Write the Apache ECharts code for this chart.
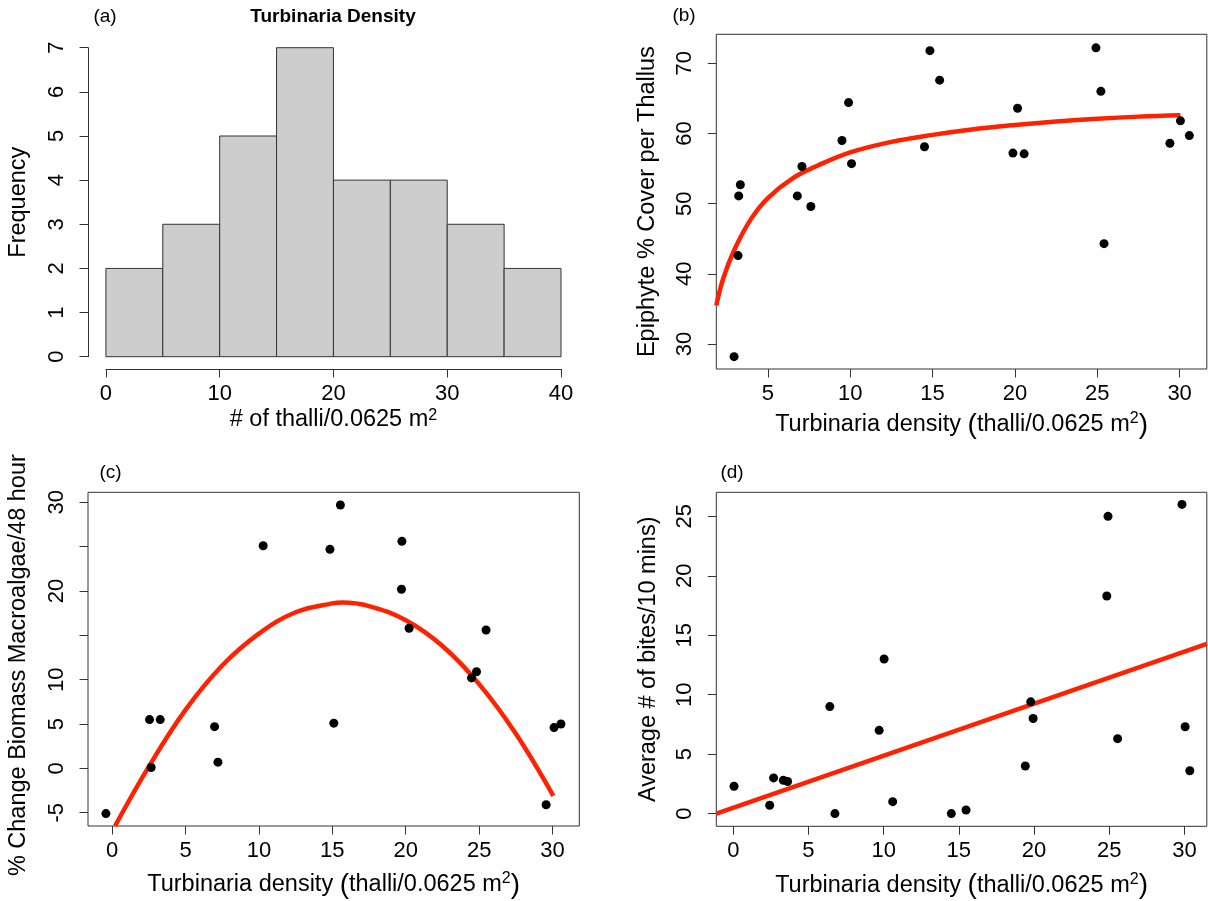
<!DOCTYPE html>
<html>
<head>
<meta charset="utf-8">
<script src="https://cdn.jsdelivr.net/npm/echarts@6/dist/echarts.min.js"></script>
<style>
  html, body { margin: 0; padding: 0; background: #ffffff; }
  #chart { width: 1208px; height: 901px; }
</style>
</head>
<body>
<div id="chart"></div>
<script>
// (a) Histogram of Turbinaria density
const binEdges = [0, 5, 10, 15, 20, 25, 30, 35, 40];
const binCounts = [2, 3, 5, 7, 4, 4, 3, 2];
const histTicksX = [0, 10, 20, 30, 40];
const histTicksY = [0, 1, 2, 3, 4, 5, 6, 7];

// (b) Epiphyte cover vs density
const epiDensity = [2.95, 3.19, 3.23, 3.33, 6.79, 7.07, 7.61, 9.50, 9.90, 10.08, 14.51, 14.84, 15.43, 19.88, 20.16, 20.56, 24.92, 25.22, 25.41, 29.41, 30.05, 30.59];
const epiCover = [28.2, 42.6, 51.1, 52.7, 51.1, 55.3, 49.6, 59.0, 64.4, 55.7, 58.1, 71.8, 67.6, 57.2, 63.6, 57.1, 72.2, 66.0, 44.3, 58.6, 61.8, 59.7];
const epiFitX = [1.87, 2.3, 3.0, 4.0, 5.0, 6.5, 8.0, 10.0, 12.5, 15.0, 17.5, 20.0, 22.5, 25.0, 27.5, 30.05];
const epiFitY = [35.5, 39.4, 43.6, 47.9, 50.8, 53.6, 55.4, 57.3, 58.8, 59.8, 60.6, 61.2, 61.7, 62.1, 62.4, 62.6];
const epiTicksX = [5, 10, 15, 20, 25, 30];
const epiTicksY = [30, 40, 50, 60, 70];

// (c) Macroalgae biomass change vs density
const bioDensity = [-0.42, 2.55, 2.66, 3.28, 6.98, 7.21, 10.29, 14.84, 15.10, 15.55, 19.74, 19.71, 20.23, 24.48, 24.82, 25.47, 29.56, 30.10, 30.57];
const bioChange = [-5.1, 5.5, 0.1, 5.5, 4.7, 0.7, 25.1, 24.7, 5.1, 29.7, 25.6, 20.2, 15.8, 10.2, 10.9, 15.6, -4.1, 4.6, 5.0];
const bioFitX = [0.2, 2.5, 5.0, 7.5, 10.0, 12.5, 15.0, 15.7, 17.5, 20.0, 22.5, 25.0, 27.5, 30.05];
const bioFitY = [-6.5, 0.2, 6.6, 11.6, 15.2, 17.6, 18.6, 18.7, 18.3, 16.7, 13.8, 9.5, 3.9, -3.1];
const bioTicksX = [0, 5, 10, 15, 20, 25, 30];
const bioTicksY = [-5, 0, 5, 10, 15, 20, 25, 30];
const bioLabelsY = [-5, 0, 5, 10, 20, 30];

// (d) Bite rate vs density
const biteDensity = [0.05, 2.42, 2.68, 3.33, 3.61, 6.42, 6.76, 9.70, 10.03, 10.60, 14.50, 15.48, 19.42, 19.78, 19.94, 24.84, 24.92, 25.56, 29.84, 30.05, 30.36];
const biteRate = [2.3, 0.7, 3.0, 2.8, 2.7, 9.0, 0.0, 7.0, 13.0, 1.0, 0.0, 0.3, 4.0, 9.4, 8.0, 18.3, 25.0, 6.3, 26.0, 7.3, 3.6];
const biteFitX = [-1.13, 31.49];
const biteFitY = [0.0, 14.27];
const biteTicksX = [0, 5, 10, 15, 20, 25, 30];
const biteTicksY = [0, 5, 10, 15, 20, 25];

const FONT = '"Liberation Sans", Arial, Helvetica, sans-serif';
const INK = '#333333';
const RED = '#ff2200';
const TICK_FS = 22;
const NAME_FS = 23.5;

const zip = (xs, ys) => xs.map((x, i) => [x, ys[i]]);

const densityName = '{t|Turbinaria density }{p|(}{t|thalli/0.0625 m}{s|2}{p|)}';
const densityRich = {
  t: { fontSize: NAME_FS, fontFamily: FONT, color: '#000' },
  p: { fontSize: 28, fontFamily: FONT, color: '#000' },
  s: { fontSize: 16, fontFamily: FONT, color: '#000', verticalAlign: 'top' }
};

function xAxis(gi, min, max, ticks, name, gap, opts) {
  opts = opts || {};
  return {
    type: 'value', gridIndex: gi, min: min, max: max, position: 'bottom',
    offset: opts.offset || 0,
    axisLine: { show: !!opts.line, onZero: false, lineStyle: { color: INK, width: 1 } },
    axisTick: { show: true, length: 8.5, inside: false, customValues: ticks, lineStyle: { color: INK, width: 1 } },
    axisLabel: { customValues: ticks, margin: 14, fontSize: TICK_FS, lineHeight: TICK_FS, color: '#000', fontFamily: FONT },
    splitLine: { show: false },
    name: name, nameLocation: 'middle', nameGap: gap,
    nameTextStyle: { fontSize: NAME_FS, fontFamily: FONT, color: '#000', rich: opts.rich }
  };
}

function yAxis(gi, min, max, ticks, labels, name, gap, opts) {
  opts = opts || {};
  return {
    type: 'value', gridIndex: gi, min: min, max: max, position: 'left',
    offset: opts.offset || 0,
    axisLine: { show: !!opts.line, onZero: false, lineStyle: { color: INK, width: 1 } },
    axisTick: { show: true, length: 8.5, inside: false, customValues: ticks, lineStyle: { color: INK, width: 1 } },
    axisLabel: { customValues: labels, rotate: 90, margin: 20, fontSize: TICK_FS, lineHeight: TICK_FS, color: '#000', fontFamily: FONT },
    splitLine: { show: false },
    name: name, nameLocation: 'middle', nameGap: gap,
    nameTextStyle: { fontSize: NAME_FS, fontFamily: FONT, color: '#000', padding: opts.namePad || 0 }
  };
}

const boxGrid = (left, top, width, height) => ({
  left: left, top: top, width: width, height: height,
  show: true, borderColor: INK, borderWidth: 1, backgroundColor: 'transparent'
});

const histBars = binCounts.map((c, i) => [binEdges[i], binEdges[i + 1], c]);

const scatter = (gi, data) => ({
  type: 'scatter', xAxisIndex: gi, yAxisIndex: gi, data: data,
  symbol: 'circle', symbolSize: 9, itemStyle: { color: '#000', opacity: 1 }, silent: true, z: 3
});
const fitLine = (gi, data, smooth) => ({
  type: 'line', xAxisIndex: gi, yAxisIndex: gi, data: data, smooth: smooth,
  showSymbol: false, clip: true, lineStyle: { color: RED, width: 4.5 }, silent: true, z: 2
});

const panelLabel = (text, x, y, bold) => ({
  type: 'text', x: x, y: y,
  style: { text: text, fontSize: 19, fontFamily: FONT, fontWeight: bold ? 'bold' : 'normal', fill: '#000', align: 'center', verticalAlign: 'middle' }
});

const chart = echarts.init(document.getElementById('chart'), null, { renderer: 'canvas' });
chart.setOption({
  animation: false,
  backgroundColor: '#ffffff',
  grid: [
    { left: 105.9, top: 47.7, width: 455.1, height: 309, show: false },
    boxGrid(716.3, 34.3, 490.5, 334.7),
    boxGrid(88, 492.3, 491.3, 333.7),
    boxGrid(716.3, 492.3, 490.5, 334)
  ],
  xAxis: [
    xAxis(0, 0, 40, histTicksX, '# of thalli/0.0625 m{s|2}', 39, {
      offset: 12.3, line: true,
      rich: { s: { fontSize: 16, fontFamily: FONT, color: '#000', verticalAlign: 'top' } }
    }),
    xAxis(1, 1.87, 31.65, epiTicksX, densityName, 42, { rich: densityRich }),
    xAxis(2, -1.64, 31.82, bioTicksX, densityName, 45, { rich: densityRich }),
    xAxis(3, -1.13, 31.49, biteTicksX, densityName, 45, { rich: densityRich })
  ],
  yAxis: [
    yAxis(0, 0, 7, histTicksY, histTicksY, 'Frequency', 57, { offset: 17.9, line: true }),
    yAxis(1, 26.44, 74.13, epiTicksY, epiTicksY, 'Epiphyte % Cover per Thallus', 57),
    yAxis(2, -6.5, 31.13, bioTicksY, bioLabelsY, '% Change Biomass Macroalgae/48 hour', 57, { namePad: [0, 12, 0, 0] }),
    yAxis(3, -1.07, 27.02, biteTicksY, biteTicksY, 'Average # of bites/10 mins)', 56)
  ],
  series: [
    {
      type: 'custom', xAxisIndex: 0, yAxisIndex: 0, data: histBars, silent: true,
      renderItem: function (params, api) {
        const p0 = api.coord([api.value(0), api.value(2)]);
        const p1 = api.coord([api.value(1), 0]);
        return {
          type: 'rect',
          shape: { x: p0[0], y: p0[1], width: p1[0] - p0[0], height: p1[1] - p0[1] },
          style: { fill: '#cdcdcd', stroke: INK, lineWidth: 1 }
        };
      }
    },
    fitLine(1, zip(epiFitX, epiFitY), 0.4),
    scatter(1, zip(epiDensity, epiCover)),
    fitLine(2, zip(bioFitX, bioFitY), 0.4),
    scatter(2, zip(bioDensity, bioChange)),
    fitLine(3, zip(biteFitX, biteFitY), false),
    scatter(3, zip(biteDensity, biteRate))
  ],
  graphic: [
    panelLabel('(a)', 105, 17),
    panelLabel('Turbinaria Density', 333, 17, true),
    panelLabel('(b)', 684, 16),
    panelLabel('(c)', 110.5, 473),
    panelLabel('(d)', 732, 473)
  ]
});
</script>
</body>
</html>
